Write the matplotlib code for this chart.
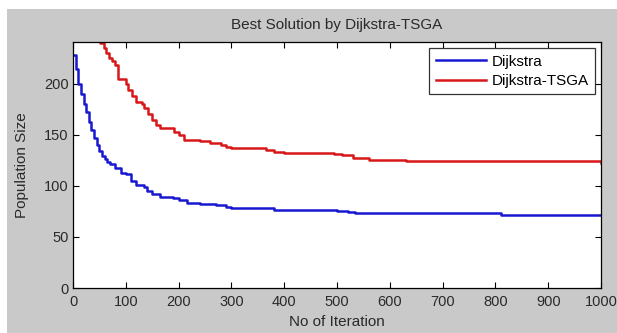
import matplotlib
matplotlib.use("Agg")
import matplotlib.pyplot as plt
import matplotlib.patches as mpatches

plt.rcParams['font.family'] = ['Liberation Sans', 'DejaVu Sans']

# Dijkstra best solution per iteration (step curve)
iter_dij = [0, 5, 10, 15, 20, 25, 30, 35, 40, 45, 50, 55, 60, 65, 70, 80, 90, 100, 110,
            120, 135, 140, 150, 165, 190, 200, 215, 240, 270, 290, 300, 360, 380, 480,
            500, 520, 535, 800, 810, 1000]
pop_dij = [228, 215, 200, 190, 180, 172, 163, 155, 147, 140, 134, 129, 126, 123, 121,
           118, 113, 112, 105, 101, 99, 95, 92, 89, 88, 86, 83, 82, 81, 79, 78, 78, 76,
           76, 75, 74, 73, 73, 72, 72]

# Dijkstra-TSGA best solution per iteration (step curve)
iter_tsga = [0, 30, 45, 52, 58, 63, 68, 73, 80, 85, 100, 105, 112, 120, 130, 135, 142,
             150, 158, 165, 185, 192, 200, 210, 240, 260, 280, 290, 300, 355, 365, 380,
             400, 480, 495, 510, 530, 560, 630, 990, 1000]
pop_tsga = [330, 280, 255, 240, 235, 230, 225, 222, 218, 205, 200, 194, 188, 182, 180,
            176, 170, 165, 160, 157, 157, 153, 150, 145, 144, 142, 140, 138, 137, 137,
            135, 133, 132, 132, 131, 130, 127, 125, 124, 124, 122]

fs = 11
txt = '#2a2a2a'

fig = plt.figure(figsize=(6.17, 3.33), dpi=100, facecolor='white')
fig.patches.append(mpatches.Rectangle((7 / 617, 0), 1, (333 - 9) / 333,
                                      transform=fig.transFigure, facecolor='#c9c9c9',
                                      edgecolor='none', zorder=-10))

ax = fig.add_axes([73 / 617, 45 / 333, 528 / 617, 246 / 333])
ax.set_facecolor('white')
ax.plot(iter_dij, pop_dij, drawstyle='steps-post', color='#1818d0', lw=1.8, label='Dijkstra')
ax.plot(iter_tsga, pop_tsga, drawstyle='steps-post', color='#d81818', lw=1.8, label='Dijkstra-TSGA')

ax.set_xlim(0, 1000)
ax.set_ylim(0, 241)
ax.set_xticks(range(0, 1001, 100))
ax.set_yticks(range(0, 201, 50))
ax.tick_params(direction='in', top=True, right=True, length=4, labelsize=10.5,
               colors='black', labelcolor=txt)
ax.tick_params(axis='x', pad=5)
ax.tick_params(axis='y', pad=3)
for s in ax.spines.values():
    s.set_linewidth(0.9)

ax.set_title('Best Solution by Dijkstra-TSGA', fontsize=fs, color=txt, pad=9)
ax.set_xlabel('No of Iteration', fontsize=fs, color=txt, labelpad=4)
ax.set_ylabel('Population Size', fontsize=fs, color=txt, labelpad=11)

leg = ax.legend(loc='upper right', fontsize=fs, fancybox=False, framealpha=1,
                edgecolor='#333333', borderaxespad=0.42, handlelength=3.3,
                handletextpad=0.35, labelspacing=0.35, borderpad=0.4)
leg.get_frame().set_linewidth(0.9)

fig.savefig('out.png', dpi=100, facecolor=fig.get_facecolor())
